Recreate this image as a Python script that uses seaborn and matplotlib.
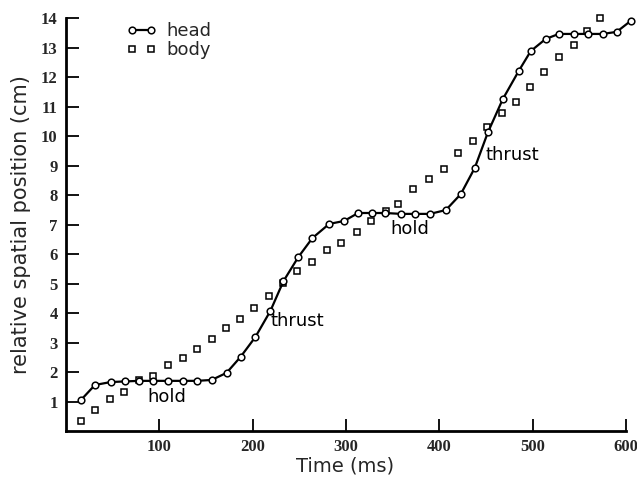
import matplotlib
matplotlib.use("Agg")
import matplotlib.pyplot as plt
import seaborn as sns

# head trajectory (circles joined by a line)
head_time = [16, 31, 48, 63, 78, 93, 109, 125, 140, 156, 172, 187, 203, 219, 233,
             249, 264, 282, 298, 313, 328, 342, 359, 374, 390, 407, 423, 438, 452,
             468, 485, 498, 514, 528, 544, 559, 575, 590, 605]
head_pos = [1.05, 1.56, 1.66, 1.68, 1.70, 1.70, 1.70, 1.70, 1.70, 1.73, 1.97, 2.51,
            3.19, 4.07, 5.08, 5.90, 6.54, 7.02, 7.12, 7.39, 7.39, 7.39, 7.36, 7.36,
            7.36, 7.49, 8.03, 8.92, 10.12, 11.25, 12.20, 12.88, 13.29, 13.46, 13.46,
            13.46, 13.46, 13.53, 13.90]

# body trajectory (squares only)
body_time = [16, 31, 47, 62, 78, 93, 109, 125, 140, 156, 171, 186, 201, 218, 233,
             247, 264, 280, 295, 312, 327, 343, 356, 372, 389, 405, 420, 436, 451,
             467, 482, 497, 512, 528, 544, 558, 572]
body_pos = [0.34, 0.71, 1.08, 1.32, 1.73, 1.86, 2.24, 2.47, 2.78, 3.12, 3.49, 3.80,
            4.17, 4.58, 5.02, 5.42, 5.73, 6.14, 6.37, 6.75, 7.12, 7.46, 7.69, 8.20,
            8.54, 8.88, 9.42, 9.83, 10.31, 10.78, 11.15, 11.66, 12.17, 12.68, 13.08,
            13.56, 14.00]

# phase labels: (text, time, position)
phase_labels = ["hold", "thrust", "hold", "thrust"]
phase_time = [87, 219, 348, 450]
phase_pos = [1.15, 3.73, 6.85, 9.36]

x_ticks = [100, 200, 300, 400, 500, 600]
y_ticks = list(range(1, 15))

sns.set_style("white")
plt.rcParams["font.family"] = ["DejaVu Sans"]

fig = plt.figure(figsize=(6.37, 4.84), dpi=100)
ax = fig.add_axes([0.1036, 0.1095, 0.8791, 0.8533])

sns.lineplot(x=head_time, y=head_pos, ax=ax, color="black", linewidth=1.6,
             marker="o", markersize=4.8, markerfacecolor="white",
             markeredgecolor="black", markeredgewidth=1.1, clip_on=False,
             label="head", zorder=3)
sns.lineplot(x=body_time, y=body_pos, ax=ax, color="black", linestyle="none",
             marker="s", markersize=4.2, markerfacecolor="white",
             markeredgecolor="black", markeredgewidth=1.1, clip_on=False,
             label="body", zorder=2)

for txt, t, p in zip(phase_labels, phase_time, phase_pos):
    ax.text(t, p, txt, fontsize=13, ha="left", va="center", color="black")

ax.set_xlim(0, 600)
ax.set_ylim(0, 14)
ax.set_xticks(x_ticks)
ax.set_yticks(y_ticks)
tick_font = {"family": "Liberation Serif", "weight": "bold", "size": 12}
ax.set_xticklabels([str(v) for v in x_ticks], fontdict=tick_font)
ax.set_yticklabels([str(v) for v in y_ticks], fontdict=tick_font)
ax.tick_params(axis="both", bottom=True, left=True, direction="in", length=9,
               width=1.3, color="black", pad=6)

sns.despine(ax=ax)
for side in ["left", "bottom"]:
    ax.spines[side].set_linewidth(2.0)
    ax.spines[side].set_color("black")

ax.set_xlabel("Time (ms)", fontsize=14)
ax.set_ylabel("relative spatial position (cm)", fontsize=15)
ax.xaxis.set_label_coords(0.498, -0.062)
ax.yaxis.set_label_coords(-0.062, 0.5)

ax.legend(loc="upper left", bbox_to_anchor=(0.109, 0.99), frameon=False,
          numpoints=2, handlelength=1.6, handletextpad=0.6, labelspacing=0.05,
          borderpad=0, borderaxespad=0, fontsize=13)

fig.savefig("out.png", dpi=100)
